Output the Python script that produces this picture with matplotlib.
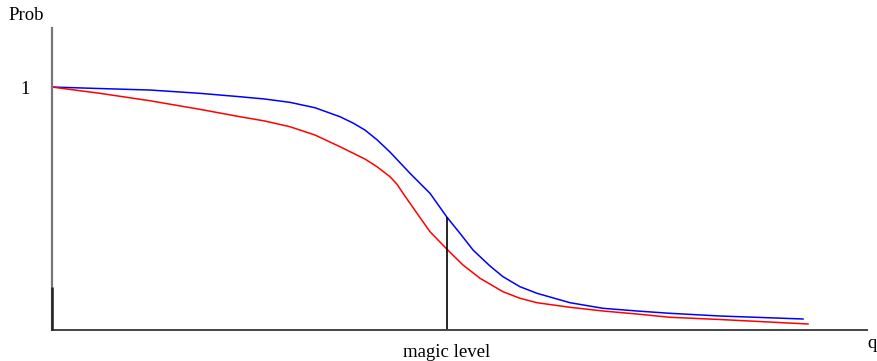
import matplotlib.pyplot as plt

# curve values (q normalised to the axis length, prob with 1 at the "1" tick)
blue_q = [0.0, 0.0589, 0.1202, 0.1816, 0.2307, 0.2613, 0.2920, 0.3227, 0.3534,
          0.3693, 0.3840, 0.3988, 0.4147, 0.4393, 0.4638, 0.4847, 0.5006, 0.5166,
          0.5374, 0.5534, 0.5742, 0.5951, 0.6356, 0.6761, 0.7178, 0.7583, 0.8196,
          0.9215]
blue_p = [1.000, 0.9938, 0.9877, 0.9741, 0.9601, 0.9506, 0.9370, 0.9148, 0.8778,
          0.8520, 0.8230, 0.7830, 0.7325, 0.6449, 0.5626, 0.4638, 0.3979, 0.3292,
          0.2634, 0.2193, 0.1782, 0.1510, 0.1123, 0.0893, 0.0782, 0.0687, 0.0576,
          0.0453]

red_q = [0.0, 0.0589, 0.1202, 0.1816, 0.2307, 0.2613, 0.2920, 0.3227, 0.3534,
         0.3840, 0.3988, 0.4147, 0.4233, 0.4307, 0.4479, 0.4638, 0.4847, 0.5043,
         0.5252, 0.5534, 0.5742, 0.5951, 0.6356, 0.6761, 0.7178, 0.7583, 0.8196,
         0.9276]
red_p = [1.000, 0.9741, 0.9436, 0.9082, 0.8778, 0.8601, 0.8366, 0.8025, 0.7543,
         0.7037, 0.6720, 0.6309, 0.6000, 0.5626, 0.4802, 0.4045, 0.3321, 0.2675,
         0.2128, 0.1576, 0.1305, 0.1123, 0.0934, 0.0782, 0.0658, 0.0523, 0.0432,
         0.0247]

magic_q = 0.4847
magic_p = 0.4638
low_mark = 0.177

plt.rcParams["font.family"] = ["Liberation Serif", "DejaVu Serif"]

fig = plt.figure(figsize=(8.78, 3.61), dpi=100)
ax = fig.add_axes([52 / 878, 31 / 361, 815 / 878, 302 / 361])

ax.plot(blue_q, blue_p, color="blue", linewidth=1.1)
ax.plot(red_q, red_p, color="red", linewidth=1.1)
ax.vlines(magic_q, 0, magic_p, color="black", linewidth=1.2)
ax.vlines(0, 0, low_mark, color="#222222", linewidth=1.8, clip_on=False, zorder=5)

ax.set_xlim(0, 1)
ax.set_ylim(0, 1.243)

for side in ["top", "right"]:
    ax.spines[side].set_visible(False)
ax.spines["left"].set_color("#777777")
ax.spines["left"].set_linewidth(1.6)
ax.spines["bottom"].set_color("#444444")
ax.spines["bottom"].set_linewidth(1.4)

ax.set_xticks([magic_q])
ax.set_xticklabels(["magic level"], fontsize=13.5)
ax.set_yticks([1])
ax.set_yticklabels(["1"], fontsize=13.5)
ax.tick_params(length=0, pad=10)
ax.tick_params(axis="y", pad=16)

fig.text(8 / 878, 1 - 15 / 361, "Prob", fontsize=13.5, va="center", ha="left")
fig.text(867 / 878, 1 - 343 / 361, "q", fontsize=13.5, va="center", ha="left")

plt.savefig("out.png", dpi=100)
